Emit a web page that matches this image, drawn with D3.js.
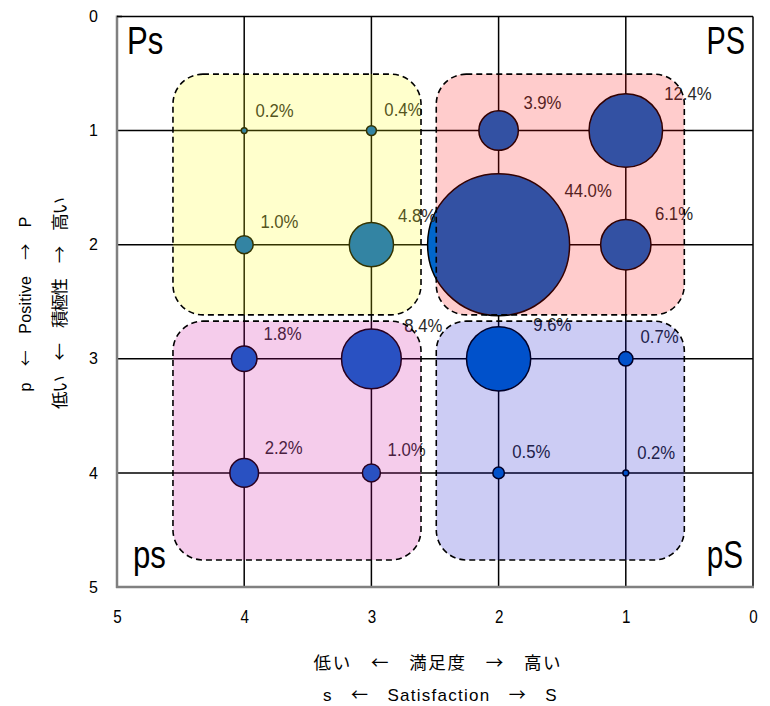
<!DOCTYPE html>
<html>
<head>
<meta charset="utf-8">
<script src="https://cdn.jsdelivr.net/npm/d3@7/dist/d3.min.js"></script>
<style>
  html, body { margin: 0; padding: 0; background: #fff; }
  svg { display: block; }
</style>
</head>
<body>
<svg id="chart" width="770" height="706"></svg>
<script>
// ---- data ----
const satisfaction = [4, 3, 2, 1, 4, 3, 2, 1, 4, 3, 2, 1, 4, 3, 2, 1];
const positive     = [1, 1, 1, 1, 2, 2, 2, 2, 3, 3, 3, 3, 4, 4, 4, 4];
const share        = [0.2, 0.4, 3.9, 12.4, 1.0, 4.8, 44.0, 6.1, 1.8, 8.4, 9.6, 0.7, 2.2, 1.0, 0.5, 0.2];
const xTicks = [5, 4, 3, 2, 1, 0];
const yTicks = [0, 1, 2, 3, 4, 5];
const quadrantNames = ["Ps", "PS", "ps", "pS"];
// axis titles as [text, isCJK] pieces
const xTitle1 = [["低い", 1], ["　←　", 1], ["満足度", 1], ["　→　", 1], ["高い", 1]];
const xTitle2 = [["s", 0], ["　←　", 1], ["Satisfaction", 0], ["　→　", 1], ["S", 0]];
const yTitle1 = [["p", 0], ["　←　", 1], ["Positive", 0], ["　→　", 1], ["P", 0]];
const yTitle2 = [["低い", 1], ["　←　", 1], ["積極性", 1], ["　→　", 1], ["高い", 1]];

// ---- layout ----
const svg = d3.select("#chart");
const pL = 117, pR = 753, pT = 16.5, pB = 587;
const x = d3.scaleLinear().domain([5, 0]).range([pL, pR]);
const y = d3.scaleLinear().domain([0, 5]).range([pT, pB]);
const r = d3.scaleSqrt().domain([0, 44]).range([0, 73]);
const radius = v => Math.max(1.5, r(v) - 2);
const LAT = "'Liberation Sans', Arial, sans-serif";
const CJK = "'Noto Sans CJK JP', sans-serif";

const quadrants = [
  { name: quadrantNames[0], x0: 4.56, x1: 2.61, y0: 0.505, y1: 2.615, fill: "rgba(255,255,0,0.2)" },
  { name: quadrantNames[1], x0: 2.49, x1: 0.54, y0: 0.505, y1: 2.615, fill: "rgba(255,0,0,0.2)" },
  { name: quadrantNames[2], x0: 4.56, x1: 2.61, y0: 2.67, y1: 4.763, fill: "rgba(204,0,153,0.2)" },
  { name: quadrantNames[3], x0: 2.49, x1: 0.54, y0: 2.67, y1: 4.763, fill: "rgba(0,0,200,0.2)" }
];

const pts = share.map((v, i) => ({ s: satisfaction[i], p: positive[i], v, label: v.toFixed(1) + "%" }));

// plot background
svg.append("rect").attr("x", pL).attr("y", pT).attr("width", pR - pL).attr("height", pB - pT).attr("fill", "#fff");

// gridlines
const grid = svg.append("g").attr("stroke", "#000").attr("stroke-width", 1.5);
[1, 2, 3, 4].forEach(t => {
  grid.append("line").attr("x1", x(t)).attr("x2", x(t)).attr("y1", pT).attr("y2", pB);
  grid.append("line").attr("x1", pL).attr("x2", pR).attr("y1", y(t)).attr("y2", y(t));
});

// border
svg.append("line").attr("x1", pL).attr("x2", pR).attr("y1", pT).attr("y2", pT).attr("stroke", "#000").attr("stroke-width", 1.5);
svg.append("line").attr("x1", pR).attr("x2", pR).attr("y1", pT).attr("y2", pB).attr("stroke", "#000").attr("stroke-width", 1.5);
svg.append("line").attr("x1", pL).attr("x2", pL).attr("y1", pT - 1).attr("y2", pB + 1).attr("stroke", "#808080").attr("stroke-width", 2.5);
svg.append("line").attr("x1", pL - 1).attr("x2", pR + 1).attr("y1", pB).attr("y2", pB).attr("stroke", "#808080").attr("stroke-width", 2.5);

// bubbles
svg.append("g").selectAll("circle").data(pts).join("circle")
  .attr("cx", d => x(d.s)).attr("cy", d => y(d.p)).attr("r", d => radius(d.v))
  .attr("fill", "#0066cc").attr("stroke", "#000").attr("stroke-width", 1.5);

// bubble labels (slightly condensed)
svg.append("g").selectAll("g").data(pts).join("g")
  .attr("transform", d => `translate(${x(d.s) + 0.8 * radius(d.v) + 9},${y(d.p) - (0.5 * radius(d.v) + 12)}) scale(0.88,1)`)
  .append("text")
  .attr("font-family", LAT).attr("font-size", 19).attr("fill", "#2a2a2a")
  .text(d => d.label);

// quadrant overlays
svg.append("g").selectAll("rect").data(quadrants).join("rect")
  .attr("x", d => x(d.x0)).attr("y", d => y(d.y0))
  .attr("width", d => x(d.x1) - x(d.x0)).attr("height", d => y(d.y1) - y(d.y0))
  .attr("rx", 30).attr("ry", 30)
  .attr("fill", d => d.fill).attr("stroke", "#000").attr("stroke-width", 1.6)
  .attr("stroke-dasharray", "6,4");

// corner labels (condensed)
function narrowText(g, tx, ty, sx, txt, anchor) {
  g.append("g").attr("transform", `translate(${tx},${ty}) scale(${sx},1)`)
    .append("text").attr("text-anchor", anchor || "start").text(txt);
}
const corner = svg.append("g").attr("font-family", LAT).attr("font-size", 38).attr("fill", "#000");
narrowText(corner, pL + 10, 54, 0.82, quadrantNames[0]);
narrowText(corner, pR - 8, 54, 0.76, quadrantNames[1], "end");
narrowText(corner, pL + 16, 568, 0.82, quadrantNames[2]);
narrowText(corner, pR - 10, 568, 0.78, quadrantNames[3], "end");

// axes
const yAxis = d3.axisLeft(y).tickValues(yTicks).tickSize(0).tickPadding(19).tickFormat(d3.format("d"));
svg.append("g").attr("transform", `translate(${pL},0)`).call(yAxis)
  .call(g => g.select(".domain").remove())
  .selectAll("text").attr("font-family", LAT).attr("font-size", 16).attr("fill", "#000");

const xAxis = d3.axisBottom(x).tickValues(xTicks).tickSize(0).tickPadding(23).tickFormat(d3.format("d"));
svg.append("g").attr("transform", `translate(0,${pB})`).call(xAxis)
  .call(g => g.select(".domain").remove())
  .selectAll("text").attr("font-family", LAT).attr("font-size", 19).attr("fill", "#000")
  .attr("transform", "scale(0.8,1)");

// small tick at top-left corner
svg.append("line").attr("x1", pL).attr("x2", pL + 5).attr("y1", pT).attr("y2", pT).attr("stroke", "#000").attr("stroke-width", 1.5);

// axis titles
function title(sel, pieces, size, len) {
  const t = sel.append("text").attr("text-anchor", "middle").attr("fill", "#000")
    .attr("font-size", size).style("white-space", "pre");
  pieces.forEach(([s, cjk]) => t.append("tspan").attr("font-family", cjk ? CJK : LAT).text(s));
  if (len) t.attr("textLength", len).attr("lengthAdjust", "spacing");
  return t;
}
const cx = (pL + pR) / 2;
title(svg.append("g").attr("transform", `translate(${cx + 2},669)`), xTitle1, 17.5, 247);
title(svg.append("g").attr("transform", `translate(${cx + 5},701)`), xTitle2, 17, 234).attr("letter-spacing", 0.5);

title(svg.append("g").attr("transform", `translate(31,304) rotate(-90)`), yTitle1, 16, 175);
title(svg.append("g").attr("transform", `translate(66,303) rotate(-90)`), yTitle2, 17.5, 212);
</script>
</body>
</html>
